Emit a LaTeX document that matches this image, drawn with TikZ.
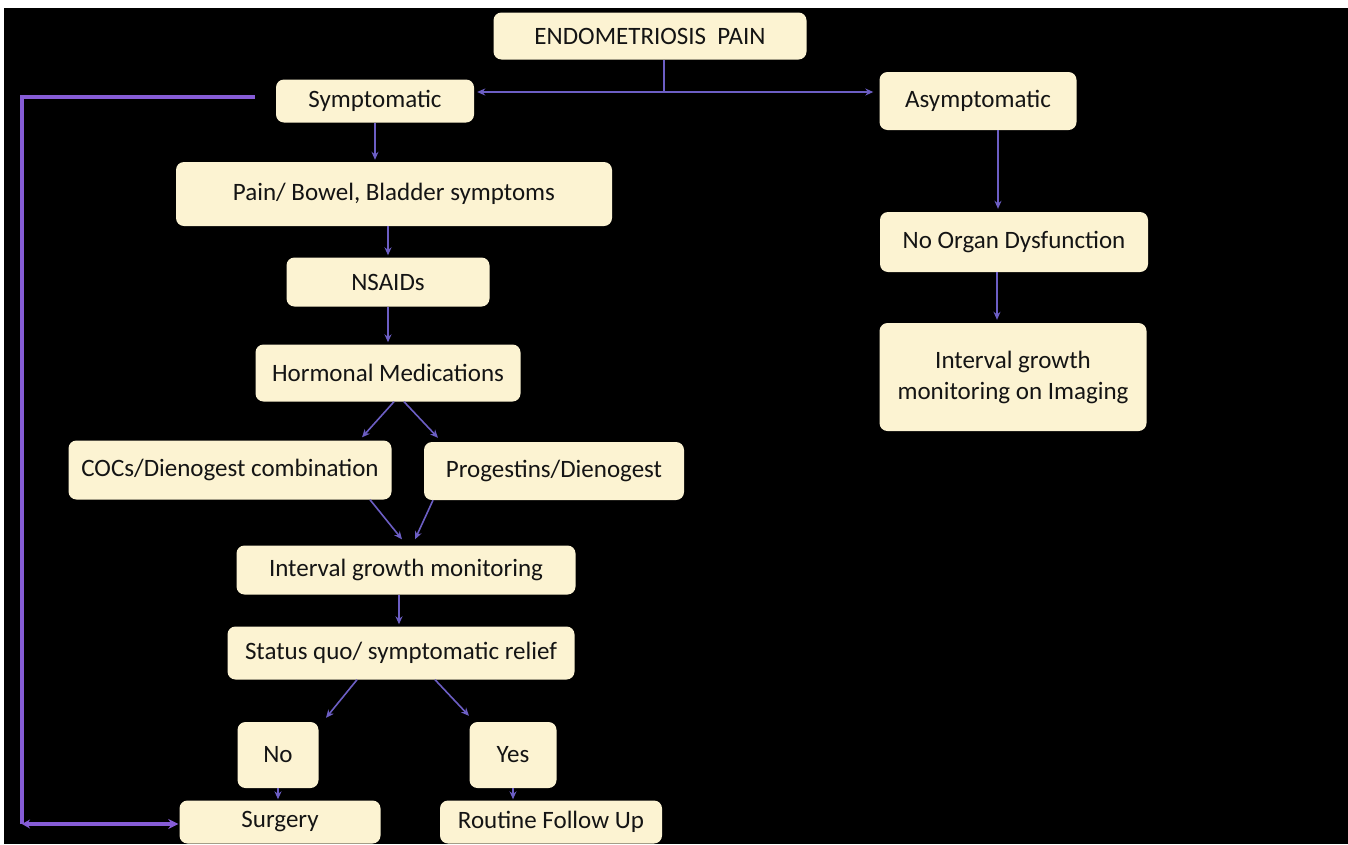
\documentclass[tikz,border=0pt]{standalone}
\usepackage{fontspec}
\setmainfont{Carlito}
\usetikzlibrary{arrows.meta}
\definecolor{cream}{RGB}{252,243,210}
\definecolor{arrowpurple}{RGB}{108,94,196}
\definecolor{looppurple}{RGB}{134,92,214}
\definecolor{textgray}{RGB}{20,20,20}
\tikzset{
	box/.style={draw=none, fill=cream, rounded corners=8pt, text=textgray, align=center, font=\fontsize{25}{31}\selectfont, inner sep=0pt},
	link/.style={draw=arrowpurple, line width=1.6pt, -{Stealth[length=8pt,width=7pt]}},
	backlink/.style={draw=looppurple, line width=3.2pt}
}

\begin{document}
\begin{tikzpicture}[x=1pt,y=-1pt]
			%%%%% START %%%%%
			\fill[white] (0,0) rectangle (1348,844);
			\fill[black] (4,8) rectangle (1348,844);
			\useasboundingbox (0,0) rectangle (1348,844);
			
			\node[box, minimum width=313pt, minimum height=47pt] (endo) at (650,36) {ENDOMETRIOSIS\ \ PAIN};
			\node[box, minimum width=198pt, minimum height=43pt] (symp) at (375,101) {Symptomatic};
			\node[box, minimum width=197pt, minimum height=58pt] (asymp) at (978,101) {Asymptomatic};
			
			\node[box, minimum width=436pt, minimum height=64pt] (painb) at (394,194) {Pain/ Bowel, Bladder symptoms};
			\node[box, minimum width=203pt, minimum height=49pt] (nsaid) at (388,282) {NSAIDs};
			\node[box, minimum width=265pt, minimum height=57pt] (horm) at (388,373) {Hormonal Medications};
			\node[box, minimum width=323pt, minimum height=59pt] (cocs) at (230,470) {COCs/Dienogest combination};
			\node[box, minimum width=260pt, minimum height=58pt] (prog) at (554,471) {Progestins/Dienogest};
			\node[box, minimum width=339pt, minimum height=49pt] (igm) at (406,570) {Interval growth monitoring};
			\node[box, minimum width=347pt, minimum height=53pt] (status) at (401,653) {Status quo/ symptomatic relief};
			\node[box, minimum width=81pt, minimum height=66pt] (no) at (278,755) {No};
			\node[box, minimum width=87pt, minimum height=66pt] (yes) at (513,755) {Yes};
			\node[box, minimum width=201pt, minimum height=43pt] (surg) at (280,822) {Surgery};
			\node[box, minimum width=222pt, minimum height=43pt] (routine) at (551,822) {Routine Follow Up};
			
			\node[box, minimum width=268pt, minimum height=60pt] (organ) at (1014,242) {No Organ Dysfunction};
			\node[box, minimum width=267pt, minimum height=108pt] (imaging) at (1013,377) {Interval growth\\monitoring on Imaging};
			
			% split under the top box
			\coordinate (split) at (664,92);
			\draw[draw=arrowpurple, line width=1.6pt] (split |- endo.south) -- (split);
			\draw[link] (split) -- ([xshift=3pt]symp.east |- split);
			\draw[link] (split) -- ([xshift=-6pt]asymp.west |- split);
			
			% left column
			\draw[link] (symp.south) -- ([yshift=2pt]symp.south |- painb.north);
			\draw[link] (nsaid.north |- painb.south) -- ([yshift=2pt]nsaid.north);
			\draw[link] (nsaid.south) -- ([yshift=2pt]horm.north);
			\draw[link] ([xshift=6pt]horm.south) -- ([xshift=132pt,yshift=3pt]cocs.north);
			\draw[link] ([xshift=16pt]horm.south) -- ([xshift=-116pt,yshift=4pt]prog.north);
			\draw[link] ([xshift=140pt]cocs.south) -- ([xshift=-4pt,yshift=6pt]igm.north);
			\draw[link] ([xshift=-121pt]prog.south) -- ([xshift=9pt,yshift=6pt]igm.north);
			\draw[link] ([xshift=-7pt]igm.south) -- ([xshift=-2pt,yshift=2pt]status.north);
			\draw[link] ([xshift=-44pt]status.south) -- ([xshift=48pt,yshift=4pt]no.north);
			\draw[link] ([xshift=34pt]status.south) -- ([xshift=-44pt,yshift=6pt]yes.north);
			\draw[link] (no.south) -- ([yshift=1pt]no.south |- surg.north);
			\draw[link] (yes.south) -- ([yshift=1pt]yes.south |- routine.north);
			
			% right column
			\draw[link] ([xshift=20pt]asymp.south) -- ([xshift=20pt,yshift=3pt]asymp.south |- organ.north);
			\draw[link] ([xshift=-17pt]organ.south) -- ([xshift=-17pt,yshift=3pt]organ.south |- imaging.north);
			
			% back to surgery
			\coordinate (corner) at (22,824);
			\draw[backlink] ([xshift=-21pt,yshift=4pt]symp.west) -| (corner);
			\draw[backlink, {Stealth[length=8pt,width=9pt]}-{Stealth[length=10pt,width=10pt]}] (corner) -- ([xshift=-1pt]surg.west |- corner);
			%%%%% END %%%%%
\end{tikzpicture}
\end{document}
